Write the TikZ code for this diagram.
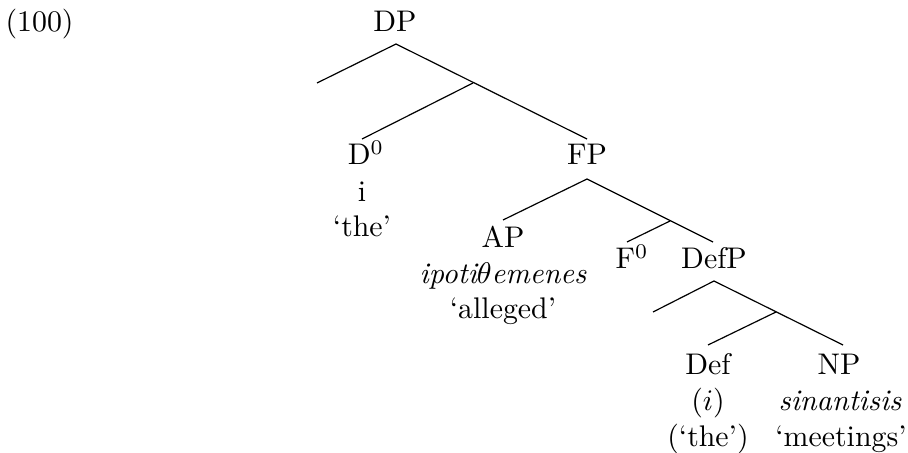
\documentclass[tikz,border=0pt]{standalone}
\begin{document}
\begin{tikzpicture}[x=0.335pt,y=-0.335pt,
  lbl/.style={inner sep=0pt,anchor=base,font=\fontsize{10}{12}\selectfont},
  branch/.style={line width=0.4pt}]
\useasboundingbox (0,0) rectangle (908,453);
% example number
\node[lbl,anchor=base west] (num) at (5,32) {(100)};
% labels
\node[lbl] (DP) at (395,32) {DP};
\node[lbl] (D0) at (366,165) {D$^0$};
\node[lbl] (D0a) at (362,201) {i};
\node[lbl] (D0b) at (362,237) {`the'};
\node[lbl] (FP) at (587,165) {FP};
\node[lbl] (AP) at (503,247) {AP};
\node[lbl] (APa) at (503,283) {\itshape ipoti$\theta$emenes};
\node[lbl] (APb) at (503,319) {`alleged'};
\node[lbl] (F0) at (632,269) {F$^0$};
\node[lbl] (DefP) at (714,269) {DefP};
\node[lbl] (Def) at (708,374) {Def};
\node[lbl] (Defa) at (708,410) {($i$)};
\node[lbl] (Defb) at (708,446) {(`the')};
\node[lbl] (NP) at (839,374) {NP};
\node[lbl] (NPa) at (840,410) {\itshape sinantisis};
\node[lbl] (NPb) at (841,446) {`meetings'};
% branch points
\coordinate (dpT) at (396,44);
\coordinate (dpL) at (317,83);
\coordinate (b1) at (473,83);
\coordinate (d0T) at (362,139);
\coordinate (fpB) at (587,139);
\coordinate (fpT) at (587,179);
\coordinate (apB) at (503,220);
\coordinate (fpR) at (713,242);
\coordinate (b2) at (670,221);
\coordinate (f0B) at (627,242);
\coordinate (defpT) at (714,281);
\coordinate (defpL) at (653,312);
\coordinate (b3) at (776,312);
\coordinate (defB) at (708,345);
\coordinate (npB) at (843,345);
% branches
\draw[branch] (dpL) -- (dpT) -- (fpB);
\draw[branch] (b1) -- (d0T);
\draw[branch] (apB) -- (fpT) -- (fpR);
\draw[branch] (b2) -- (f0B);
\draw[branch] (defpL) -- (defpT) -- (npB);
\draw[branch] (b3) -- (defB);
\end{tikzpicture}
\end{document}
